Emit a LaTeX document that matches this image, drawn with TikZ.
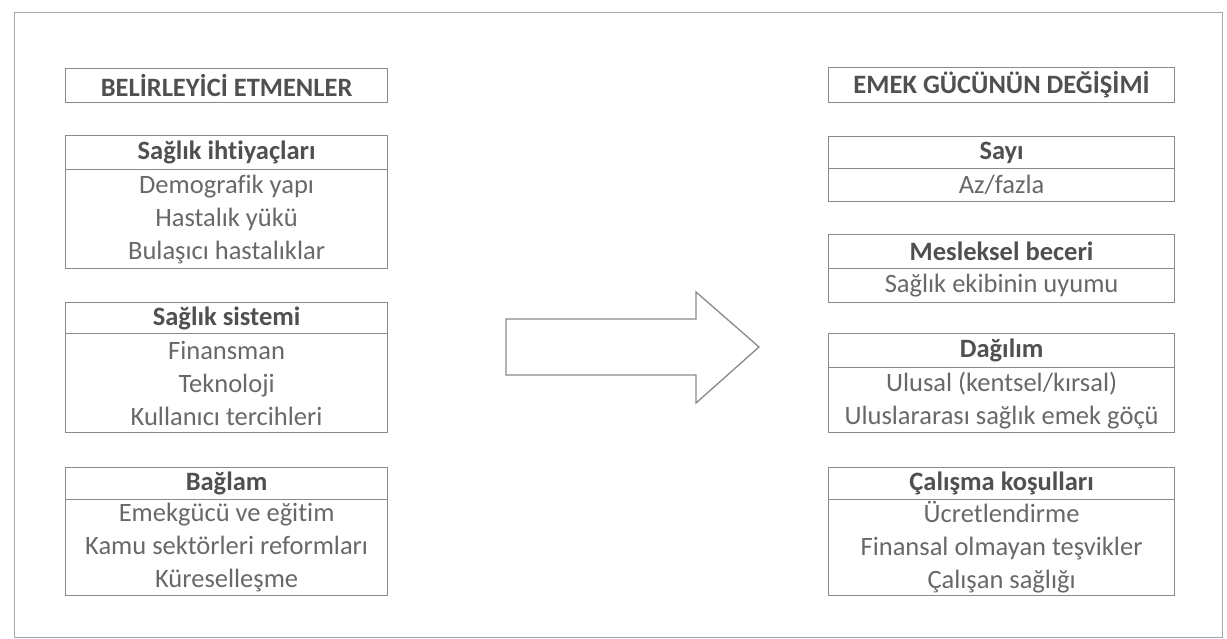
\documentclass[tikz,border=0pt]{standalone}
\usepackage{fontspec}
\setmainfont{Carlito}[Ligatures=NoCommon]
\definecolor{linec}{HTML}{8A8A8A}
\definecolor{framec}{HTML}{A8A8A8}
\definecolor{textc}{HTML}{686868}
\definecolor{headc}{HTML}{505050}
\begin{document}
\begin{tikzpicture}[x=1pt,y=-1pt,
  cell/.style={draw=linec, line width=1.2pt, inner sep=0pt, anchor=north west,
    text=textc, font=\fontsize{26.5}{33}\selectfont, align=center},
  lcell/.style={cell, minimum width=322pt},
  rcell/.style={cell, minimum width=346pt},
  bold/.style={text=headc, font=\bfseries\fontsize{26.5}{33}\selectfont},
  bigarrow/.style={draw=linec, line width=1.3pt, line join=miter}]
\useasboundingbox (0,0) rectangle (1227,639);
\draw[framec, line width=1pt] (14,13) rectangle (1222,637);
% left column
\node[lcell, bold, minimum height=34pt] (lt) at (65,68) {BELİRLEYİCİ ETMENLER};
\node[lcell, bold, minimum height=34pt] (ah) at (65,135) {Sağlık ihtiyaçları};
\node[lcell, minimum height=99pt] (ab) at (65,169) {Demografik yapı\\Hastalık yükü\\Bulaşıcı hastalıklar};
\node[lcell, bold, minimum height=31pt] (bh) at (65,302) {Sağlık sistemi};
\node[lcell, minimum height=99pt] (bb) at (65,333) {Finansman\\Teknoloji\\Kullanıcı tercihleri};
\node[lcell, bold, minimum height=32pt] (ch) at (65,467) {Bağlam};
\node[lcell, minimum height=96pt] (cb) at (65,499) {Emekgücü ve eğitim\\Kamu sektörleri reformları\\Küreselleşme};
% right column
\node[rcell, bold, minimum height=35pt] (rt) at (828,67) {EMEK GÜCÜNÜN DEĞİŞİMİ};
\node[rcell, bold, minimum height=32pt] (sh) at (828,136) {Sayı};
\node[rcell, minimum height=33pt] (sb) at (828,168) {Az/fazla};
\node[rcell, bold, minimum height=34pt] (mh) at (828,234) {Mesleksel beceri};
\node[rcell, minimum height=34pt] (mb) at (828,268) {Sağlık ekibinin uyumu};
\node[rcell, bold, minimum height=34pt] (dh) at (828,333) {Dağılım};
\node[rcell, minimum height=65pt] (db) at (828,367) {Ulusal (kentsel/kırsal)\\Uluslararası sağlık emek göçü};
\node[rcell, bold, minimum height=32pt] (kh) at (828,467) {Çalışma koşulları};
\node[rcell, minimum height=96pt] (kb) at (828,499) {Ücretlendirme\\Finansal olmayan teşvikler\\Çalışan sağlığı};
% big arrow
\draw[bigarrow] (506,319) -- (696,319) -- (696,292) -- (759,347) -- (696,403) -- (696,375) -- (506,375) -- cycle;
\end{tikzpicture}
\end{document}
